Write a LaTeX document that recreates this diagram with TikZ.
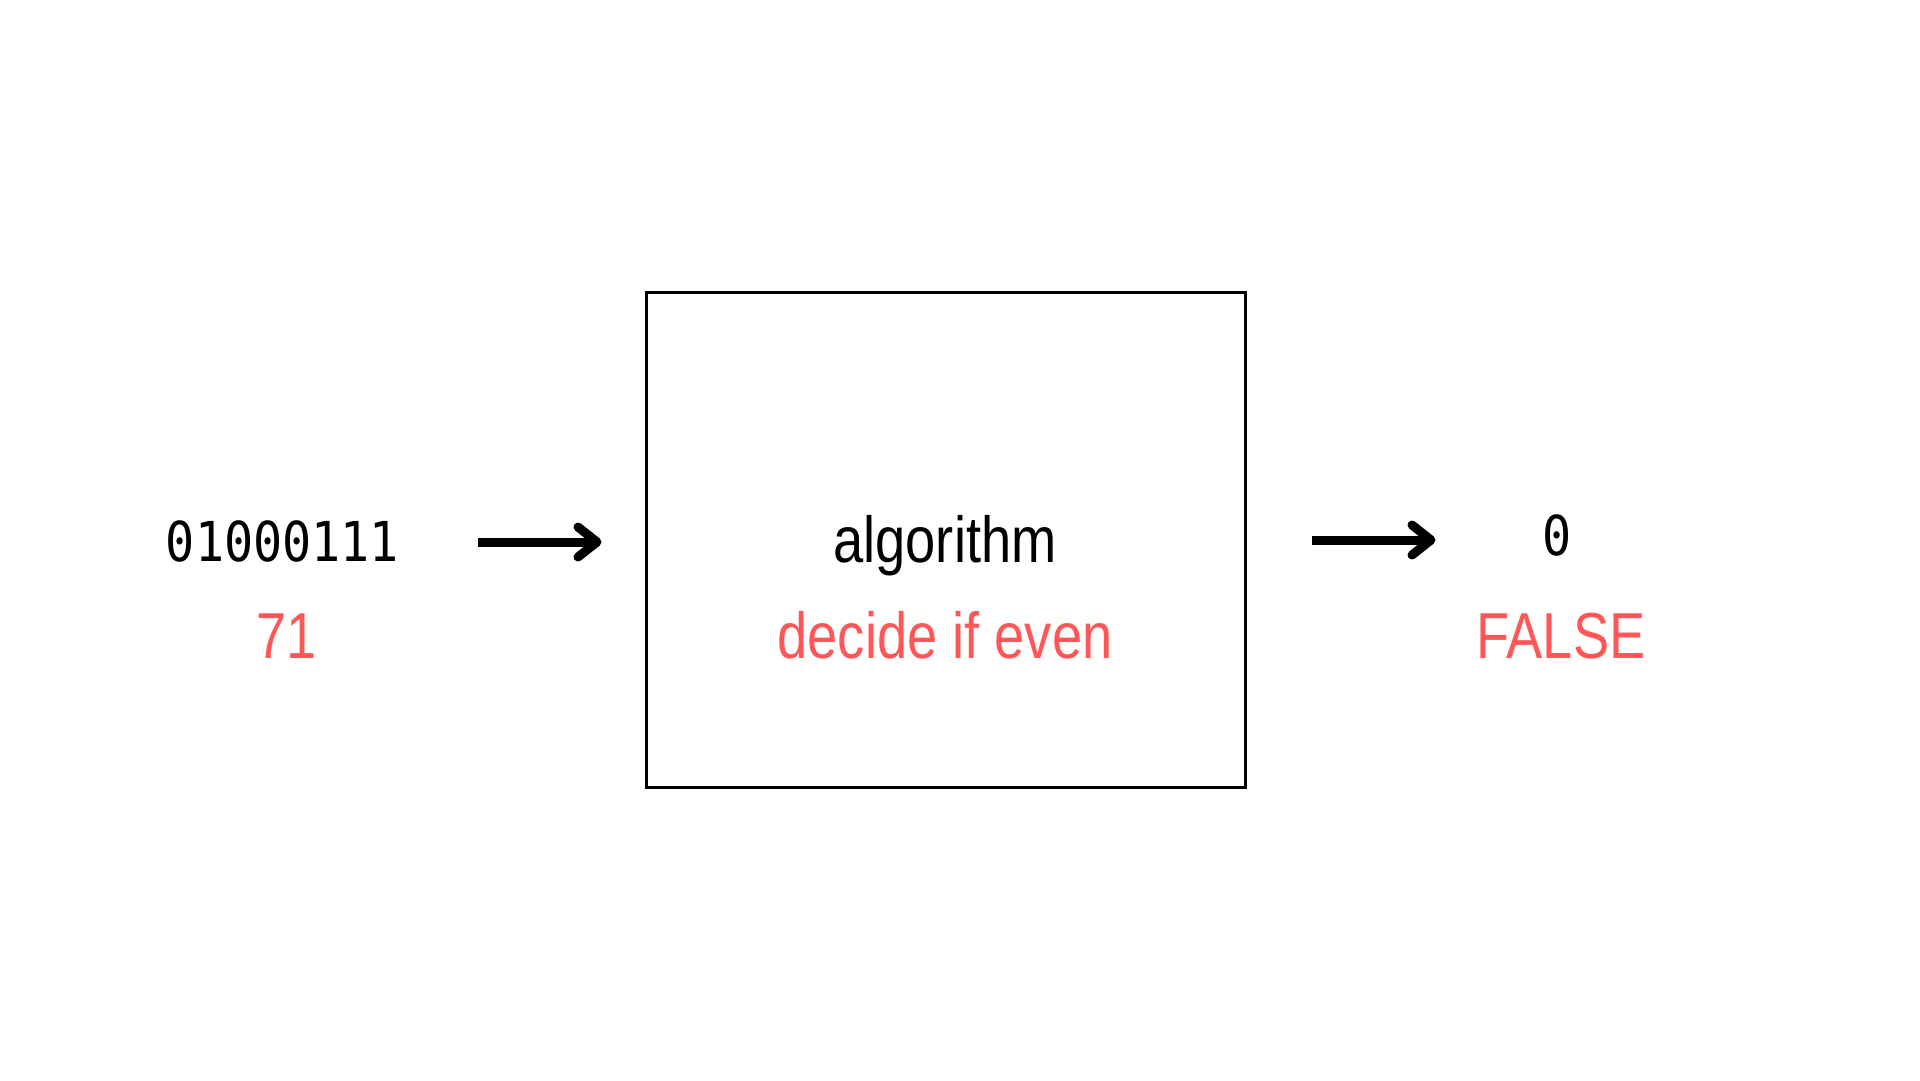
\documentclass[tikz,border=0pt]{standalone}
\usepackage{fontspec}
\usetikzlibrary{calc}
\newfontfamily\narrowfont[FakeStretch=0.835]{Liberation Sans}
\newfontfamily\codefont[FakeStretch=0.88]{DejaVu Sans Mono}
\definecolor{accent}{HTML}{FF5757}
\tikzset{
  lbl/.style={inner sep=0pt, anchor=base, font=\narrowfont\fontsize{65}{78}\selectfont},
  redlbl/.style={lbl, text=accent},
  code/.style={inner sep=0pt, anchor=base, font=\codefont\fontsize{55}{66}\selectfont},
  algbox/.style={draw=black, line width=3pt, fill=white, inner sep=0pt, minimum width=598.7pt, minimum height=495.8pt},
  shaft/.style={line width=9pt, line cap=butt},
  chev/.style={line width=9pt, line cap=round, line join=round}
}
\begin{document}
\begin{tikzpicture}[x=1pt, y=-1pt]
\useasboundingbox (0,0) rectangle (1920,1080);
\fill[white] (0,0) rectangle (1920,1080);
% box
\node[algbox] (box) at (945.9,539.9) {};
% texts
\node[code] (bin) at (282.5,561.7) {01000111};
\node[redlbl] (dec) at (287,658) {71};
\node[lbl] (alg) at (945,562) {algorithm};
\node[redlbl] (task) at (945,658) {decide if even};
\node[code] (out) at (1557,555) {0};
\node[redlbl] (res) at (1561,658) {FALSE};
% arrows
\coordinate (la) at (478,542);
\coordinate (lb) at (597,542);
\coordinate (ra) at (1312,540);
\coordinate (rb) at (1431,540);
\draw[shaft] (la) -- (lb);
\draw[chev] ($(lb)+(-19,-15)$) -- (lb) -- ($(lb)+(-19,15)$);
\draw[shaft] (ra) -- (rb);
\draw[chev] ($(rb)+(-19,-15)$) -- (rb) -- ($(rb)+(-19,15)$);
\end{tikzpicture}
\end{document}
